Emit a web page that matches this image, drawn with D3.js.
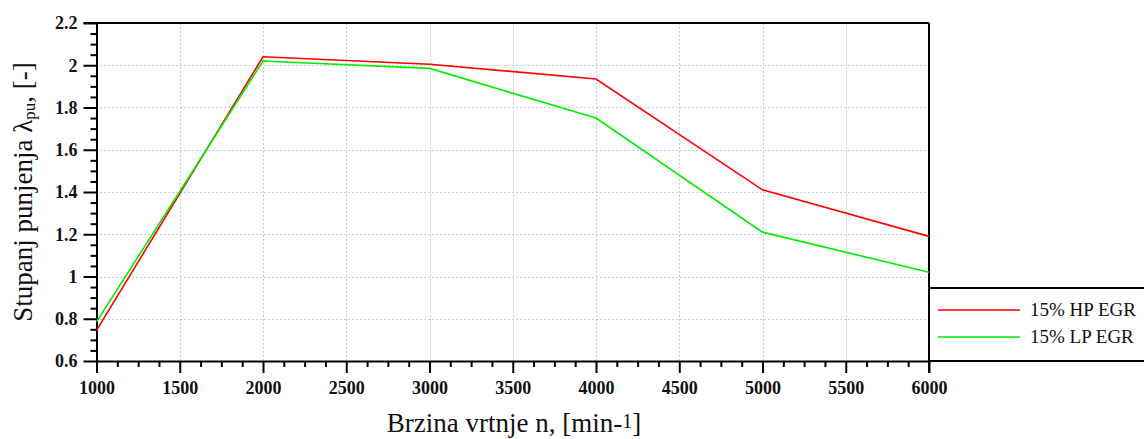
<!DOCTYPE html>
<html>
<head>
<meta charset="utf-8">
<script src="https://cdn.jsdelivr.net/npm/d3@7"></script>
<style>
  html, body { margin: 0; padding: 0; background: #fff; }
  svg { display: block; }
</style>
</head>
<body>
<svg id="chart" width="1144" height="439"></svg>
<script>
// ---- data ----
const speeds = [1000, 2000, 3000, 4000, 5000, 6000];
const hpEgr = [0.745, 2.04, 2.005, 1.935, 1.41, 1.19];
const lpEgr = [0.785, 2.02, 1.985, 1.75, 1.21, 1.02];
const seriesNames = ["15% HP EGR", "15% LP EGR"];
const xTicks = [1000, 1500, 2000, 2500, 3000, 3500, 4000, 4500, 5000, 5500, 6000];
const yTicks = [0.6, 0.8, 1, 1.2, 1.4, 1.6, 1.8, 2, 2.2];

const svg = d3.select("#chart");
const serif = "'Liberation Serif', 'Times New Roman', serif";

const x = d3.scaleLinear().domain([1000, 6000]).range([96.5, 929]);
const y = d3.scaleLinear().domain([0.6, 2.2]).range([361, 23]);

// grid
const grid = svg.append("g").attr("stroke", "#bdbdbd").attr("stroke-width", 1).attr("stroke-dasharray", "1.5,2.5");
grid.selectAll("line.gx").data(xTicks.slice(1, -1)).join("line")
  .attr("x1", d => Math.round(x(d)) + 0.5).attr("x2", d => Math.round(x(d)) + 0.5)
  .attr("y1", y(2.2)).attr("y2", y(0.6));
grid.selectAll("line.gy").data(yTicks.slice(1, -1)).join("line")
  .attr("x1", x(1000)).attr("x2", x(6000))
  .attr("y1", d => Math.round(y(d)) + 0.5).attr("y2", d => Math.round(y(d)) + 0.5);

// minor ticks
const xMinor = d3.range(1000, 6001, 125).filter(v => v % 500 !== 0);
const yMinor = d3.range(0, 33).map(i => +(0.6 + i * 0.05).toFixed(2)).filter(v => Math.abs(v * 5 - Math.round(v * 5)) > 1e-6);

const axStyle = g => {
  g.selectAll("path").attr("stroke", "#000").attr("stroke-width", 2);
  g.selectAll("line").attr("stroke", "#000").attr("stroke-width", 2);
};

// left axis
const yAxisG = svg.append("g").attr("transform", `translate(${x(1000)},0)`)
  .call(d3.axisLeft(y).tickValues(yTicks).tickSize(13).tickSizeOuter(0).tickFormat(d3.format("~g")).tickPadding(6));
axStyle(yAxisG);
yAxisG.selectAll("text").attr("font-family", serif).attr("font-size", 18).attr("font-weight", "bold").attr("fill", "#111");
const yMinorG = svg.append("g").attr("transform", `translate(${x(1000)},0)`)
  .call(d3.axisLeft(y).tickValues(yMinor).tickSize(6).tickFormat(""));
axStyle(yMinorG);
yMinorG.select("path").remove();

// bottom axis
const xAxisG = svg.append("g").attr("transform", `translate(0,${y(0.6)})`)
  .call(d3.axisBottom(x).tickValues(xTicks).tickSize(12).tickSizeOuter(0).tickFormat(d3.format("d")).tickPadding(8));
axStyle(xAxisG);
xAxisG.selectAll("text").attr("font-family", serif).attr("font-size", 18).attr("font-weight", "bold").attr("fill", "#111");
const xMinorG = svg.append("g").attr("transform", `translate(0,${y(0.6)})`)
  .call(d3.axisBottom(x).tickValues(xMinor).tickSize(6).tickFormat(""));
axStyle(xMinorG);
xMinorG.select("path").remove();

// frame: top, right, legend box
const frame = svg.append("g").attr("stroke", "#000").attr("stroke-width", 2).attr("fill", "none");
frame.append("line").attr("x1", x(1000) - 13).attr("x2", x(6000)).attr("y1", y(2.2)).attr("y2", y(2.2));
frame.append("line").attr("x1", x(6000)).attr("x2", x(6000)).attr("y1", y(2.2)).attr("y2", y(0.6) + 12);
frame.append("line").attr("x1", x(6000)).attr("x2", 1144).attr("y1", y(0.6)).attr("y2", y(0.6));
frame.append("line").attr("x1", x(6000)).attr("x2", 1144).attr("y1", 288).attr("y2", 288);

// series lines
const series = [
  { name: seriesNames[0], values: hpEgr, color: "#ff0000" },
  { name: seriesNames[1], values: lpEgr, color: "#00ee00" }
];
const line = d3.line().x((d, i) => x(speeds[i])).y(d => y(d));
svg.append("g").selectAll("path").data(series).join("path")
  .attr("d", d => line(d.values))
  .attr("fill", "none").attr("stroke", d => d.color).attr("stroke-width", 1.6);

// legend
const leg = svg.append("g");
series.forEach((s, i) => {
  const ly = 310 + i * 27;
  leg.append("line").attr("x1", 938).attr("x2", 1020).attr("y1", ly).attr("y2", ly)
    .attr("stroke", s.color).attr("stroke-width", 1.6);
  leg.append("text").attr("x", 1030).attr("y", ly + 6).attr("font-family", serif).attr("font-size", 19)
    .attr("fill", "#111").text(s.name);
});

// axis titles
const xt = svg.append("text").attr("x", 514).attr("y", 432).attr("text-anchor", "middle")
  .attr("font-family", serif).attr("font-size", 27).attr("fill", "#111");
xt.append("tspan").text("Brzina vrtnje n, [min-");
xt.append("tspan").attr("font-size", 20).attr("dy", -4).text("1");
xt.append("tspan").attr("dy", 4).text("]");

const yt = svg.append("text").attr("transform", "translate(32,192) rotate(-90)").attr("text-anchor", "middle")
  .attr("font-family", serif).attr("font-size", 27).attr("fill", "#111");
yt.append("tspan").text("Stupanj punjenja λ");
yt.append("tspan").attr("font-size", 17).attr("dy", 3).text("pu");
yt.append("tspan").attr("dy", -3).text(", [-]");
</script>
</body>
</html>
